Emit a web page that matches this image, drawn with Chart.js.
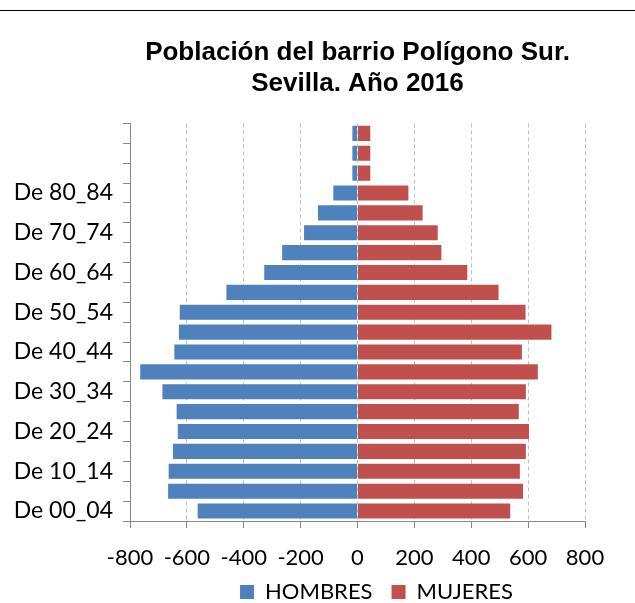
<!DOCTYPE html>
<html><head><meta charset="utf-8">
<script src="https://cdn.jsdelivr.net/npm/chart.js@4"></script>
<style>
html,body{margin:0;padding:0;background:#fff;}
#wrap{position:relative;width:635px;height:603px;}
#topline{position:absolute;left:0;top:10px;width:635px;height:1px;background:#000;}
canvas{position:absolute;left:0;top:0;}
</style></head>
<body>
<div id="wrap"><div id="topline"></div><canvas id="c" width="635" height="603"></canvas></div>
<script>
const categories = ["De 00_04","De 05_09","De 10_14","De 15_19","De 20_24","De 25_29","De 30_34","De 35_39","De 40_44","De 45_49","De 50_54","De 55_59","De 60_64","De 65_69","De 70_74","De 75_79","De 80_84","De 85_89","",""];
const hombres = [-562,-666,-664,-649,-632,-636,-686,-764,-644,-628,-625,-461,-328,-265,-188,-139,-85,-18,-18,-18];
const mujeres = [537,582,571,592,603,567,592,634,578,682,591,496,386,295,282,229,179,45,45,45];
const xTicks = [-800,-600,-400,-200,0,200,400,600,800];
const titleLines = ["Población del barrio Polígono Sur.","Sevilla. Año 2016"];

const placeBoxes = {
  id: 'placeBoxes',
  afterLayout(chart) {
    const t = chart.titleBlock;
    if (t) { t.left = 130; t.right = 585; }
    const lg = chart.legend;
    if (lg) {
      lg.left = 158; lg.right = 595;
      lg.top = 562; lg.bottom = 603;
    }
  }
};

new Chart(document.getElementById('c'), {
  type: 'bar',
  data: {
    labels: categories,
    datasets: [
      {label:'HOMBRES', data:hombres, backgroundColor:'#4F81BD', borderWidth:0},
      {label:'MUJERES', data:mujeres, backgroundColor:'#C0504D', borderWidth:0}
    ]
  },
  plugins: [placeBoxes],
  options: {
    indexAxis: 'y',
    responsive: false,
    animation: false,
    layout: {padding: {left: 0, right: 50, top: 0, bottom: 0}},
    datasets: {bar: {barPercentage: 0.76, categoryPercentage: 1}},
    plugins: {
      title: {display: true, text: titleLines, color:'#000',
        font: {family: "'Liberation Sans', Arial, sans-serif", size: 26, weight: 'bold', lineHeight: 1.2},
        padding: {top: 37, bottom: 24}},
      legend: {position: 'bottom', maxHeight: 20, labels: {color:'#000', boxWidth: 14, boxHeight: 14,
        font: {family: 'Lato', size: 22}, padding: 19}},
      tooltip: {enabled: false}
    },
    scales: {
      x: {
        stacked: true, min: -800, max: 800,
        afterBuildTicks: s => { s.ticks = xTicks.map(v => ({value: v})); },
        afterFit: s => { s.height = 62; },
        ticks: {color:'#000', font: {family: 'Lato', size: 22}, padding: 17},
        grid: {color: '#c0c0c0', lineWidth: 1, tickColor: '#868686', tickLength: 7, tickBorderDash: []},
        border: {display: true, color: '#868686', width: 1, dash: [4,3]}
      },
      y: {
        stacked: true, reverse: true,
        afterFit: s => { s.width = 130; },
        ticks: {color:'#000', font: {family: 'Lato', size: 23}, padding: 10, autoSkip: false,
          callback: function(v, i){ return i % 2 === 0 ? this.getLabelForValue(v) : ''; }},
        grid: {drawOnChartArea: false, drawTicks: true, tickLength: 7, color: '#868686', tickColor: '#868686', offset: true},
        border: {display: true, color: '#868686', width: 1}
      }
    }
  }
});
</script>
</body></html>
